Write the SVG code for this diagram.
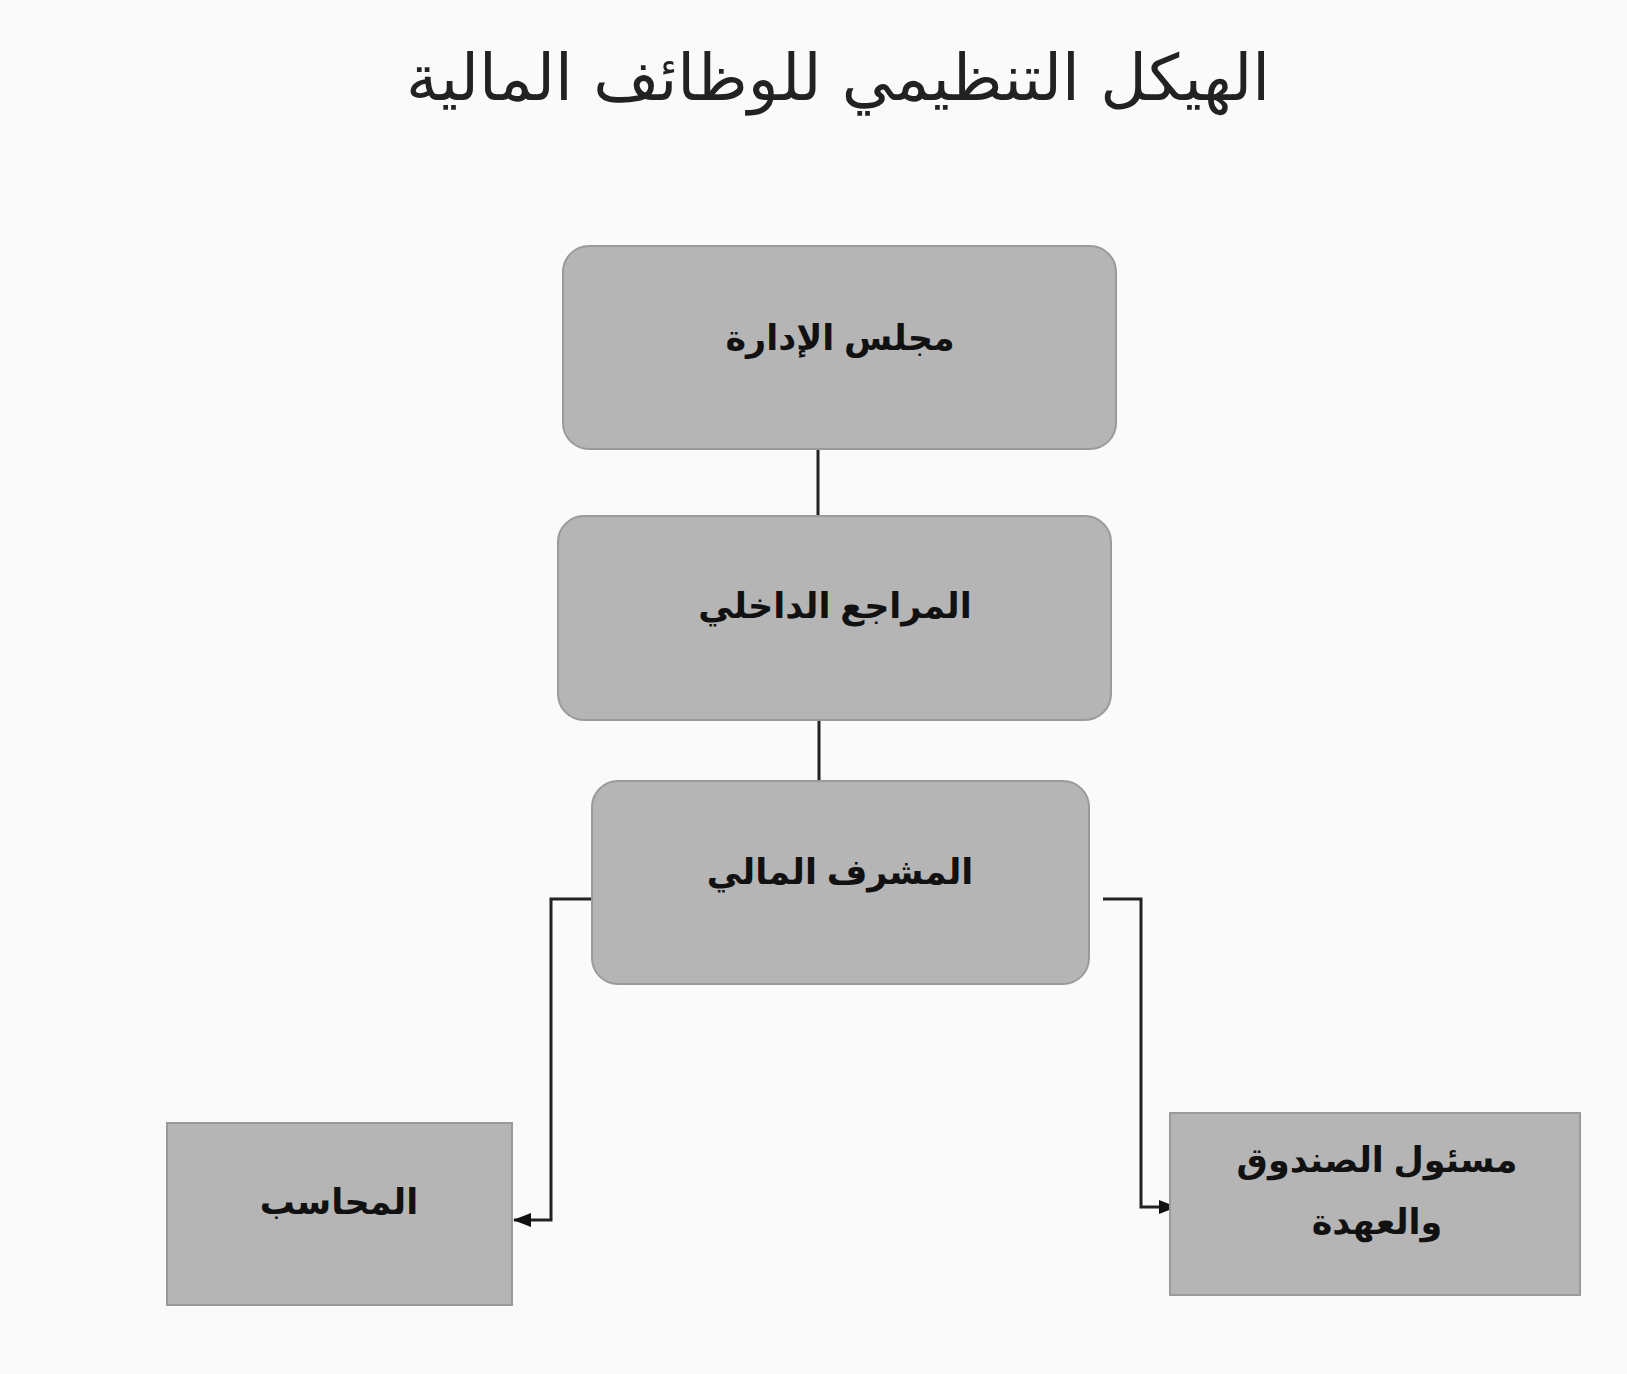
<svg xmlns="http://www.w3.org/2000/svg" width="1627" height="1374" viewBox="0 0 1627 1374">
<style>
.n{fill:#b5b5b5;stroke:#9a9a9a;stroke-width:2}
.t{font-family:"Liberation Sans","DejaVu Sans",sans-serif;font-weight:bold;font-size:35px;fill:#111;text-anchor:middle}
.c{fill:none;stroke:#222;stroke-width:3}
</style>
<defs><marker id="a" markerWidth="18" markerHeight="14" refX="17" refY="7" orient="auto" markerUnits="userSpaceOnUse"><path d="M0,0 L18,7 L0,14 Z" fill="#111"/></marker></defs>
<rect width="1627" height="1374" fill="#fafafa"/>
<text x="838" y="100" font-family="'DejaVu Sans','Noto Sans',sans-serif" font-size="64" fill="#222" text-anchor="middle">الهيكل التنظيمي للوظائف المالية</text>
<g id="connectors">
<line class="c" x1="818" y1="449" x2="818" y2="516"/>
<line class="c" x1="819" y1="720" x2="819" y2="781"/>
<polyline class="c" points="592,899 551,899 551,1220 514,1220" marker-end="url(#a)"/>
<polyline class="c" points="1103,899 1141,899 1141,1207 1176,1207" marker-end="url(#a)"/>
</g>
<g id="n1"><rect class="n" x="563" y="246" width="553" height="203" rx="26"/><text class="t" x="840" y="350">مجلس الإدارة</text></g>
<g id="n2"><rect class="n" x="558" y="516" width="553" height="204" rx="26"/><text class="t" x="835" y="618">المراجع الداخلي</text></g>
<g id="n3"><rect class="n" x="592" y="781" width="497" height="203" rx="26"/><text class="t" x="840" y="884">المشرف المالي</text></g>
<g id="n4"><rect class="n" x="167" y="1123" width="345" height="182"/><text class="t" x="339" y="1214">المحاسب</text></g>
<g id="n5"><rect class="n" x="1170" y="1113" width="410" height="182"/><text class="t" x="1377" y="1172">مسئول الصندوق</text><text class="t" x="1377" y="1234">والعهدة</text></g>
</svg>
